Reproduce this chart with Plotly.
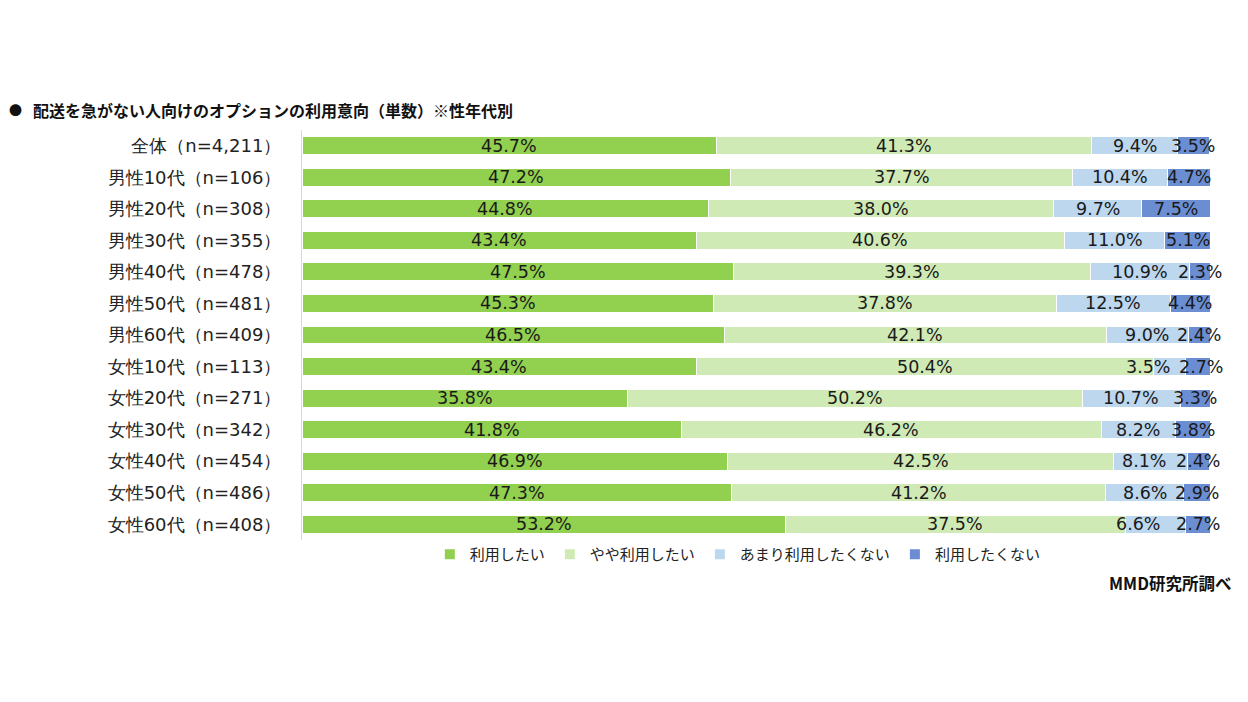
import plotly.graph_objects as go

categories = ["全体（n=4,211）", "男性10代（n=106）", "男性20代（n=308）", "男性30代（n=355）",
              "男性40代（n=478）", "男性50代（n=481）", "男性60代（n=409）", "女性10代（n=113）",
              "女性20代（n=271）", "女性30代（n=342）", "女性40代（n=454）", "女性50代（n=486）",
              "女性60代（n=408）"]
series_names = ["利用したい", "やや利用したい", "あまり利用したくない", "利用したくない"]
v_want = [45.7, 47.2, 44.8, 43.4, 47.5, 45.3, 46.5, 43.4, 35.8, 41.8, 46.9, 47.3, 53.2]
v_some = [41.3, 37.7, 38.0, 40.6, 39.3, 37.8, 42.1, 50.4, 50.2, 46.2, 42.5, 41.2, 37.5]
v_notmuch = [9.4, 10.4, 9.7, 11.0, 10.9, 12.5, 9.0, 3.5, 10.7, 8.2, 8.1, 8.6, 6.6]
v_not = [3.5, 4.7, 7.5, 5.1, 2.3, 4.4, 2.4, 2.7, 3.3, 3.8, 2.4, 2.9, 2.7]
colors = ["#92D050", "#D0EAB5", "#BDD7EE", "#6B8ED3"]

FONT = "Noto Sans CJK JP"
NUMFONT = "DejaVu Sans"
all_series = [v_want, v_some, v_notmuch, v_not]

# label nudges (pixels) where the original moved labels to avoid collisions
label_nudge = {(7, 2): -22, (7, 3): 3, (12, 2): -18, (10, 2): -7}

fig = go.Figure()
for name, vals, col in zip(series_names, all_series, colors):
    fig.add_trace(go.Bar(
        y=categories, x=vals, name=name, orientation="h",
        marker=dict(color=col, line=dict(color="white", width=1)),
        hoverinfo="skip",
    ))

annotations = []
for i, cat in enumerate(categories):
    start = 0.0
    for k, vals in enumerate(all_series):
        v = vals[i]
        annotations.append(dict(
            x=start + v / 2, y=cat, xref="x", yref="y", text=f"{v:.1f}%",
            showarrow=False, xanchor="center", yanchor="middle",
            xshift=label_nudge.get((i, k), 0),
            font=dict(size=17.5, family=NUMFONT, color="#1a1a1a")))
        start += v

annotations += [
    dict(text="<b>●</b>", xref="paper", yref="paper", x=(7 - 302) / 908, y=1 + 20/410,
         xanchor="left", yanchor="middle", showarrow=False,
         font=dict(size=13, family=FONT, color="#111")),
    dict(text="<b>配送を急がない人向けのオプションの利用意向（単数）※性年代別</b>",
         xref="paper", yref="paper", x=(31 - 302) / 908, y=1 + 20/410, xanchor="left",
         yanchor="middle", showarrow=False, font=dict(size=16, family=FONT, color="#111")),
    dict(text="<b>MMD研究所調べ</b>", xref="paper", yref="paper",
         x=(1233 - 302) / 908, y=-(583 - 540) / 410, xanchor="right", yanchor="middle",
         showarrow=False, font=dict(size=16.5, family=FONT, color="#111")),
]

fig.update_layout(
    barmode="stack", bargap=0.43,
    width=1248, height=702,
    margin=dict(l=302, r=38, t=130, b=162),
    plot_bgcolor="white", paper_bgcolor="white",
    font=dict(family=FONT, color="#222"),
    showlegend=True,
    legend=dict(orientation="h", x=0.48, xanchor="center", y=0.005, yanchor="top",
                font=dict(size=15, family=FONT, color="#222"), itemwidth=30,
                traceorder="normal", itemsizing="constant"),
    xaxis=dict(range=[0, 100], visible=False, fixedrange=True),
    yaxis=dict(autorange="reversed", showline=True, linecolor="#D9D9D9", linewidth=1,
               ticks="", tickfont=dict(size=18, family=NUMFONT, color="#222"),
               ticklabelstandoff=16, showgrid=False),
    annotations=annotations,
)
fig.write_html("out.html")
